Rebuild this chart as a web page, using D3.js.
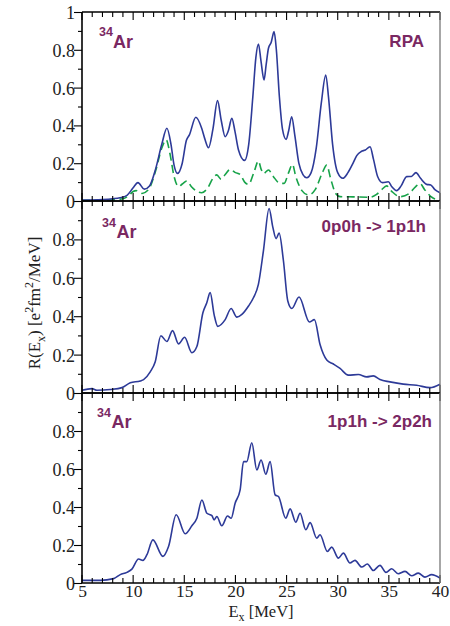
<!DOCTYPE html>
<html><head><meta charset="utf-8">
<script src="https://cdn.jsdelivr.net/npm/d3@7"></script>
<style>body{margin:0;background:#fff}svg{display:block}</style>
</head><body>
<svg id="c" width="450" height="626"></svg>
<script>
// ---- data ----
const rpaE = [5,7,8,8.7,9.4,10,10.47,11.09,11.6,12.2,12.8,13.3,13.7,14,14.34,14.8,15.2,15.5,16.13,16.7,17,17.37,17.8,18.25,18.6,19,19.3,19.65,19.95,20.3,20.89,21.3,21.7,22,22.25,22.5,22.8,23,23.23,23.5,23.78,24,24.3,24.6,24.95,25.2,25.5,25.8,26.2,26.6,26.97,27.4,27.9,28.4,28.83,29.1,29.5,30,30.5,31,31.5,31.86,32.3,32.7,33.16,33.5,33.9,34.4,34.95,35.3,35.76,36.2,36.74,37.2,37.65,38.1,38.7,39.1,39.5,40];
const rpaR = [0.005,0.008,0.012,0.017,0.03,0.07,0.097,0.063,0.08,0.17,0.3,0.385,0.3,0.19,0.146,0.2,0.32,0.35,0.443,0.385,0.33,0.282,0.38,0.531,0.43,0.34,0.37,0.437,0.37,0.27,0.215,0.3,0.55,0.76,0.831,0.74,0.64,0.72,0.808,0.84,0.896,0.8,0.55,0.38,0.326,0.37,0.446,0.35,0.2,0.14,0.123,0.15,0.28,0.52,0.667,0.55,0.3,0.15,0.12,0.15,0.2,0.24,0.262,0.27,0.287,0.22,0.13,0.097,0.102,0.075,0.055,0.08,0.129,0.13,0.15,0.12,0.088,0.085,0.06,0.044];
const dashE = [5,8,9,9.6,10,10.3,10.86,11.5,12.2,12.8,13.23,13.6,14,14.44,14.8,15.25,15.7,16.2,16.7,17.3,17.8,18.18,18.6,19,19.49,20,20.46,20.9,21.28,21.8,22.25,22.5,22.74,23.23,23.7,24.3,24.76,25.2,25.57,25.9,26.5,27.13,27.8,28.5,28.93,29.3,29.8,30.23,31.5,33.16,33.8,34.3,34.78,35.3,36.09,37,37.6,38.04,38.5,39.2,40];
const dashR = [0.003,0.006,0.012,0.03,0.05,0.055,0.04,0.06,0.16,0.28,0.323,0.25,0.13,0.076,0.09,0.106,0.075,0.052,0.044,0.07,0.12,0.138,0.115,0.14,0.168,0.15,0.14,0.1,0.088,0.15,0.212,0.17,0.145,0.164,0.13,0.095,0.093,0.15,0.194,0.13,0.055,0.032,0.06,0.15,0.19,0.12,0.04,0.023,0.022,0.02,0.035,0.06,0.08,0.05,0.023,0.04,0.075,0.093,0.06,0.02,0.005];
const p1E = [5,5.98,6.46,7.77,8.91,9.72,10.7,11.02,11.67,12.16,12.71,13.3,13.85,14.44,15.03,15.74,16.23,16.82,17.2,17.53,17.92,18.28,19,19.58,20.14,20.63,21.28,21.76,22.25,22.74,23.29,23.65,23.98,24.27,24.69,25.12,25.51,26.22,27.23,27.72,28.28,28.93,29.58,30.23,31.04,32.02,32.83,33.48,34.13,35.11,36.41,37.71,39.02,40];
const p1R = [0.014,0.023,0.014,0.018,0.028,0.053,0.063,0.07,0.11,0.163,0.298,0.268,0.325,0.256,0.29,0.21,0.242,0.418,0.47,0.523,0.407,0.347,0.382,0.44,0.395,0.409,0.453,0.496,0.567,0.742,0.961,0.865,0.804,0.833,0.69,0.479,0.44,0.5,0.37,0.382,0.251,0.172,0.151,0.128,0.093,0.096,0.084,0.089,0.07,0.058,0.046,0.04,0.028,0.046];
const p2E = [5,6.79,8.09,8.74,9.39,9.88,10.53,10.96,11.35,11.93,12.91,13.46,14.21,15.09,15.74,16.23,16.72,17.21,17.7,17.92,18.18,18.67,19.23,19.58,19.97,20.46,20.79,21.11,21.6,22.09,22.51,22.97,23.39,23.88,24.21,24.92,25.35,25.9,26.32,26.88,27.3,27.95,28.27,28.99,29.41,30.07,30.55,31.2,31.69,32.34,32.9,33.48,34.13,34.72,35.27,35.92,36.58,37.23,37.88,38.53,39.18,40];
const p2R = [0.014,0.014,0.023,0.044,0.056,0.073,0.126,0.119,0.149,0.227,0.14,0.192,0.359,0.259,0.301,0.341,0.437,0.367,0.355,0.332,0.35,0.301,0.353,0.341,0.42,0.49,0.639,0.639,0.738,0.595,0.647,0.572,0.639,0.464,0.455,0.341,0.39,0.32,0.367,0.28,0.318,0.236,0.254,0.166,0.189,0.131,0.157,0.105,0.119,0.084,0.1,0.066,0.093,0.056,0.075,0.049,0.061,0.038,0.052,0.031,0.044,0.026];
const xTickLabels = ["5","10","15","20","25","30","35","40"];
const yTickLabels = ["0","0.2","0.4","0.6","0.8"];
const panelTitles = ["RPA","0p0h -> 1p1h","1p1h -> 2p2h"];
const nucleus = {mass:"34", sym:"Ar"};

// ---- layout ----
const svg = d3.select("#c");
const X0 = 82, X1 = 440;
const panels = [
  {y0:12, y1:201, series:[{e:rpaE,r:rpaR,dash:false},{e:dashE,r:dashR,dash:true}], title:panelTitles[0], showOne:true,
   sup:[99,36], ar:[113,48], tt:[424,47]},
  {y0:201, y1:393, series:[{e:p1E,r:p1R,dash:false}], title:panelTitles[1], showOne:false,
   sup:[102,227], ar:[116.5,238], tt:[426,232]},
  {y0:393, y1:583, series:[{e:p2E,r:p2R,dash:false}], title:panelTitles[2], showOne:false,
   sup:[97,417], ar:[111.5,428], tt:[432,427]}
];
const x = d3.scaleLinear().domain([5,40]).range([X0,X1]);
const blue = "#2d3a98", green = "#17a349", purple = "#7a2862";
const serif = "'Liberation Serif','Times New Roman',serif";
const sans = "'Liberation Sans',Arial,sans-serif";

panels.forEach((p,i)=>{
  const y = d3.scaleLinear().domain([0,1]).range([p.y1,p.y0]);
  const g = svg.append("g");
  const line = d3.line().x(d=>x(d[0])).y(d=>y(d[1])).curve(d3.curveMonotoneX);
  p.series.slice().reverse().forEach(s=>{
    const pts = s.e.map((e,k)=>[e,s.r[k]]);
    g.append("path").attr("d",line(pts)).attr("fill","none")
      .attr("stroke", s.dash?green:blue).attr("stroke-width", 1.6)
      .attr("stroke-dasharray", s.dash?"8,4.5":null);
  });
  // x ticks: inward at bottom and top of each panel
  d3.range(5,41,1).forEach(v=>{
    const L = v%5===0 ? 8 : 5;
    g.append("line").attr("x1",x(v)).attr("x2",x(v)).attr("y1",p.y1).attr("y2",p.y1-L)
      .attr("stroke","#000").attr("stroke-width",1.1);
    g.append("line").attr("x1",x(v)).attr("x2",x(v)).attr("y1",p.y0).attr("y2",p.y0+L)
      .attr("stroke","#000").attr("stroke-width",1.1);
  });
  // y axis (left, outward ticks)
  const yMajor = p.showOne ? [0,0.2,0.4,0.6,0.8,1] : [0,0.2,0.4,0.6,0.8];
  const yAx = d3.axisLeft(y).tickValues(yMajor).tickSize(8).tickSizeOuter(0)
    .tickFormat(d=> d===1 ? "1" : yTickLabels[Math.round(d*5)]);
  const ya = g.append("g").attr("transform",`translate(${X0},0)`).call(yAx);
  ya.select(".domain").remove();
  ya.selectAll("line").attr("stroke","#000").attr("stroke-width",1.1);
  ya.selectAll("text").attr("font-family",serif).attr("font-size",18).attr("fill","#222")
    .attr("x",-7).attr("dy","0.36em");
  const yMin = g.append("g").attr("transform",`translate(${X0},0)`)
    .call(d3.axisLeft(y).tickValues([0.1,0.3,0.5,0.7,0.9]).tickSize(4).tickFormat(""));
  yMin.select(".domain").remove();
  yMin.selectAll("line").attr("stroke","#000").attr("stroke-width",1.1);
  // frame
  g.append("line").attr("x1",X0).attr("x2",X1).attr("y1",p.y1).attr("y2",p.y1).attr("stroke","#000").attr("stroke-width",1.6);
  g.append("line").attr("x1",X0).attr("x2",X1).attr("y1",p.y0).attr("y2",p.y0).attr("stroke","#000").attr("stroke-width",1.6);
  g.append("line").attr("x1",X0).attr("x2",X0).attr("y1",p.y0).attr("y2",p.y1).attr("stroke","#000").attr("stroke-width",1.6);
  g.append("line").attr("x1",X1).attr("x2",X1).attr("y1",p.y0).attr("y2",p.y1).attr("stroke","#777").attr("stroke-width",1.3);
  // annotations
  g.append("text").attr("x",p.sup[0]).attr("y",p.sup[1]).text(nucleus.mass)
    .attr("font-family",sans).attr("font-weight","bold").attr("font-size",12.5).attr("fill",purple);
  g.append("text").attr("x",p.ar[0]).attr("y",p.ar[1]).text(nucleus.sym)
    .attr("font-family",sans).attr("font-weight","bold").attr("font-size",18).attr("fill",purple);
  g.append("text").attr("x",p.tt[0]).attr("y",p.tt[1]).text(p.title).attr("text-anchor","end")
    .attr("font-family",sans).attr("font-weight","bold").attr("font-size",17).attr("fill",purple);
});

// x tick labels on bottom panel
const xl = svg.append("g").attr("transform","translate(0,583)")
  .call(d3.axisBottom(x).tickValues(d3.range(5,41,5)).tickSize(0).tickPadding(2)
    .tickFormat((d,i)=>xTickLabels[i]));
xl.select(".domain").remove();
xl.selectAll("text").attr("font-family",serif).attr("font-size",17.5).attr("fill","#222");

// axis titles
const xt = svg.append("text").attr("x",261).attr("y",617).attr("text-anchor","middle")
  .attr("font-family",serif).attr("font-size",16.5).attr("fill","#222");
xt.append("tspan").text("E");
xt.append("tspan").text("x").attr("font-size",12).attr("dy",4);
xt.append("tspan").text(" [MeV]").attr("dy",-4);

const yt = svg.append("text").attr("transform","translate(40,303) rotate(-90)").attr("text-anchor","middle")
  .attr("font-family",serif).attr("font-size",17).attr("fill","#222");
yt.append("tspan").text("R(E");
yt.append("tspan").text("x").attr("font-size",12).attr("dy",5);
yt.append("tspan").text(") [e").attr("dy",-5);
yt.append("tspan").text("2").attr("font-size",12).attr("dy",-7);
yt.append("tspan").text("fm").attr("dy",7);
yt.append("tspan").text("2").attr("font-size",12).attr("dy",-7);
yt.append("tspan").text("/MeV]").attr("dy",7);
</script>
</body></html>
